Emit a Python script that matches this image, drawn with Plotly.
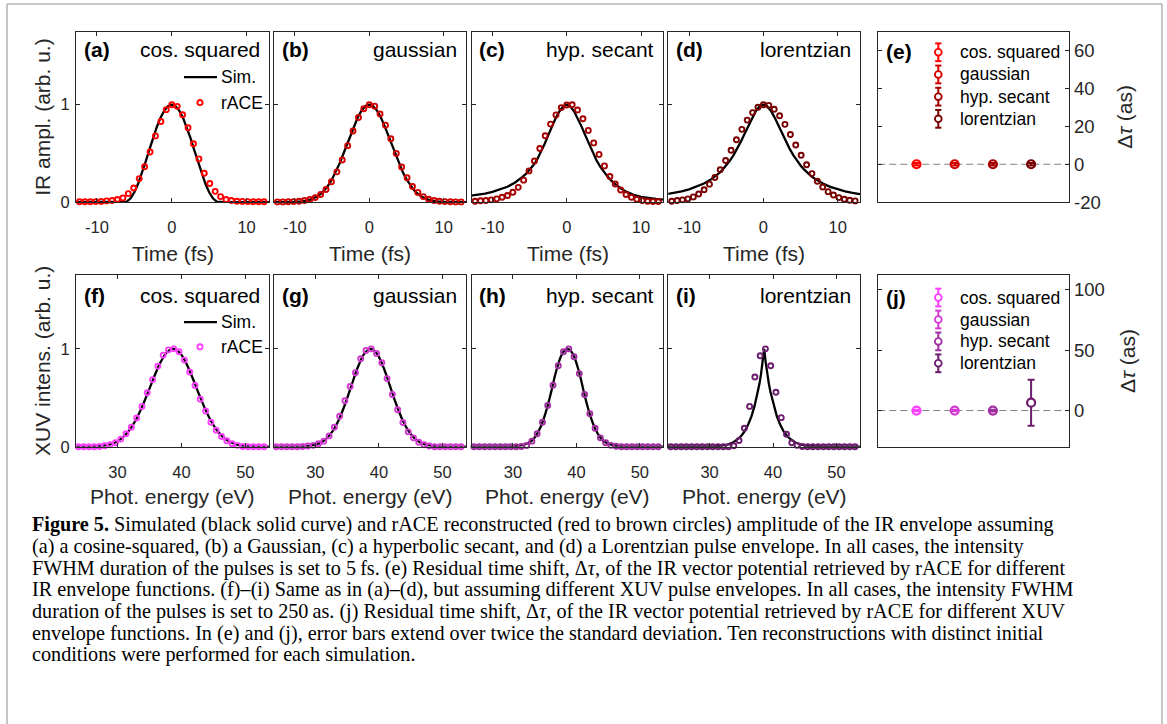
import plotly.graph_objects as go

W, H = 1167, 724

# ---------------- data ----------------
envelopes = ["cos. squared", "gaussian", "hyp. secant", "lorentzian"]
labels_ir = ["(a)", "(b)", "(c)", "(d)", "(e)"]
labels_xuv = ["(f)", "(g)", "(h)", "(i)", "(j)"]

ir_colors = ["#FF0000", "#D20000", "#A50000", "#780000"]
xuv_colors = ["#FF3FFF", "#D23AD2", "#A22FA2", "#6E1C6E"]

# IR: time grid of rACE points (fs)
t_race = [-12.34, -11.61, -10.89, -10.16, -9.43, -8.71, -7.98, -7.26, -6.53, -5.81,
          -5.08, -4.35, -3.63, -2.90, -2.18, -1.45, -0.73, 0.0, 0.73, 1.45, 2.18,
          2.90, 3.63, 4.35, 5.08, 5.81, 6.53, 7.26, 7.98, 8.71, 9.43, 10.16, 10.89,
          11.61, 12.34]
race_cos = [0.005, 0.005, 0.005, 0.006, 0.008, 0.013, 0.017, 0.027, 0.044, 0.088,
            0.145, 0.242, 0.364, 0.515, 0.680, 0.828, 0.949, 1.0, 0.983, 0.896, 0.764,
            0.599, 0.444, 0.296, 0.192, 0.111, 0.057, 0.027, 0.017, 0.010, 0.008,
            0.006, 0.005, 0.005, 0.005]
race_gauss = [0.003, 0.003, 0.004, 0.006, 0.010, 0.017, 0.027, 0.047, 0.078, 0.130,
              0.209, 0.311, 0.432, 0.580, 0.730, 0.868, 0.959, 1.0, 0.985, 0.905, 0.790,
              0.650, 0.500, 0.360, 0.250, 0.160, 0.100, 0.057, 0.030, 0.017, 0.010,
              0.006, 0.004, 0.003, 0.003]
race_sech = [0.010, 0.014, 0.017, 0.024, 0.034, 0.051, 0.068, 0.101, 0.152, 0.226,
             0.321, 0.422, 0.551, 0.682, 0.801, 0.895, 0.970, 0.997, 1.0, 0.946, 0.855,
             0.736, 0.608, 0.490, 0.372, 0.264, 0.186, 0.125, 0.078, 0.051, 0.030,
             0.017, 0.010, 0.007, 0.007]
race_lor = [0.010, 0.017, 0.024, 0.034, 0.054, 0.084, 0.128, 0.185, 0.253, 0.333,
            0.428, 0.532, 0.640, 0.747, 0.842, 0.919, 0.973, 1.0, 0.993, 0.953, 0.886,
            0.798, 0.694, 0.586, 0.481, 0.384, 0.293, 0.215, 0.155, 0.108, 0.074,
            0.047, 0.030, 0.020, 0.013]

# IR: simulated envelopes (fs)
t_sim = [-13, -12, -11, -10, -9, -8, -7, -6.5, -6, -5.5, -5, -4.5, -4, -3.5, -3, -2.5,
         -2, -1.5, -1, -0.5, 0, 0.5, 1, 1.5, 2, 2.5, 3, 3.5, 4, 4.5, 5, 5.5, 6, 6.5, 7,
         8, 9, 10, 11, 12, 13]
sim_cos = [0, 0, 0, 0, 0, 0, 0, 0, 0.006, 0.039, 0.102, 0.188, 0.294, 0.413, 0.537,
           0.659, 0.771, 0.867, 0.939, 0.985, 1.0, 0.985, 0.939, 0.867, 0.771, 0.659,
           0.537, 0.413, 0.294, 0.188, 0.102, 0.039, 0.006, 0, 0, 0, 0, 0, 0, 0, 0]
sim_gauss = [0.0, 0.0002, 0.0009, 0.003, 0.009, 0.024, 0.058, 0.086, 0.124, 0.173,
             0.235, 0.309, 0.395, 0.491, 0.593, 0.696, 0.793, 0.878, 0.944, 0.986, 1.0,
             0.986, 0.944, 0.878, 0.793, 0.696, 0.593, 0.491, 0.395, 0.309, 0.235,
             0.173, 0.124, 0.086, 0.058, 0.024, 0.009, 0.003, 0.0009, 0.0002, 0.0]
sim_sech = [0.065, 0.075, 0.088, 0.105, 0.128, 0.158, 0.200, 0.226, 0.256, 0.290,
            0.330, 0.378, 0.435, 0.510, 0.595, 0.685, 0.775, 0.860, 0.930, 0.980, 1.0,
            0.980, 0.930, 0.860, 0.775, 0.685, 0.595, 0.510, 0.430, 0.365, 0.310,
            0.262, 0.220, 0.185, 0.155, 0.108, 0.076, 0.055, 0.041, 0.033, 0.027]
sim_lor = [0.082, 0.095, 0.111, 0.131, 0.157, 0.191, 0.236, 0.263, 0.295, 0.333,
           0.376, 0.427, 0.485, 0.552, 0.626, 0.707, 0.790, 0.870, 0.938, 0.984, 1.0,
           0.984, 0.938, 0.870, 0.790, 0.707, 0.626, 0.552, 0.485, 0.427, 0.376,
           0.333, 0.295, 0.263, 0.236, 0.191, 0.157, 0.131, 0.111, 0.095, 0.082]

# XUV: photon-energy grid of rACE points (eV)
e_race = [23.86, 24.69, 25.52, 26.35, 27.18, 28.01, 28.84, 29.67, 30.50, 31.33,
          32.16, 32.99, 33.82, 34.65, 35.48, 36.31, 37.14, 37.97, 38.80, 39.63,
          40.46, 41.29, 42.12, 42.95, 43.78, 44.61, 45.44, 46.27, 47.10, 47.93,
          48.76, 49.59, 50.42, 51.25, 52.08, 52.91]
xrace_cos = [0, 0, 0, 0, 0.003, 0.010, 0.020, 0.041, 0.078, 0.132, 0.199, 0.294,
             0.412, 0.551, 0.686, 0.824, 0.936, 0.990, 1.0, 0.970, 0.885, 0.764,
             0.625, 0.486, 0.365, 0.250, 0.169, 0.105, 0.061, 0.030, 0.014, 0.003,
             0, 0, 0, 0]
xrace_gauss = [0, 0, 0, 0, 0, 0.003, 0.007, 0.014, 0.030, 0.057, 0.111, 0.199,
               0.311, 0.470, 0.615, 0.757, 0.899, 0.983, 1.0, 0.953, 0.858, 0.696,
               0.534, 0.378, 0.247, 0.152, 0.091, 0.047, 0.020, 0.007, 0, 0, 0, 0,
               0, 0]
xrace_sech = [0, 0, 0, 0, 0, 0, 0, 0, 0, 0.003, 0.012, 0.057, 0.132, 0.250, 0.422,
              0.628, 0.828, 0.970, 1.0, 0.919, 0.747, 0.534, 0.338, 0.189, 0.091,
              0.041, 0.014, 0.005, 0, 0, 0, 0, 0, 0, 0, 0]
xrace_lor = [0, 0, 0, 0, 0, 0, 0, 0, 0, 0, 0, 0, 0.010, 0.064, 0.189, 0.412, 0.713,
             0.929, 1.0, 0.828, 0.557, 0.297, 0.128, 0.041, 0.014, 0.003, 0, 0, 0,
             0, 0, 0, 0, 0, 0, 0]

# XUV: simulated spectra (eV)
e_sim_fg = [23.5, 24.7, 25.7, 26.7, 27.7, 28.7, 29.7, 30.7, 31.7, 32.7, 33.7, 34.7,
            35.7, 36.7, 37.7, 38.7, 39.7, 40.7, 41.7, 42.7, 43.7, 44.7, 45.7, 46.7,
            47.7, 48.7, 49.7, 50.7, 51.7, 52.7, 53.7]
xsim_cos = [0, 0.001, 0.002, 0.004, 0.010, 0.022, 0.046, 0.088, 0.155, 0.255, 0.387,
            0.544, 0.710, 0.859, 0.963, 1.0, 0.963, 0.859, 0.710, 0.544, 0.387, 0.255,
            0.155, 0.088, 0.046, 0.022, 0.010, 0.004, 0.002, 0.001, 0]
xsim_gauss = [0, 0, 0, 0.001, 0.002, 0.006, 0.016, 0.037, 0.080, 0.157, 0.276, 0.439,
              0.629, 0.814, 0.950, 1.0, 0.950, 0.814, 0.629, 0.439, 0.276, 0.157,
              0.080, 0.037, 0.016, 0.006, 0.002, 0.001, 0, 0, 0]
e_sim_h = [23.5, 25.6, 27.6, 28.6, 29.6, 30.6, 31.6, 32.6, 33.1, 33.6, 34.1, 34.6,
           35.1, 35.6, 36.1, 36.6, 37.1, 37.6, 38.1, 38.6, 39.1, 39.6, 40.1, 40.6,
           41.1, 41.6, 42.1, 42.6, 43.1, 43.6, 44.1, 44.6, 45.6, 46.6, 47.6, 48.6,
           50.6, 53.7]
xsim_sech = [0, 0, 0, 0, 0.002, 0.007, 0.018, 0.045, 0.07, 0.11, 0.165, 0.24, 0.335,
             0.45, 0.58, 0.72, 0.835, 0.93, 0.98, 1.0, 0.98, 0.93, 0.835, 0.72, 0.58,
             0.45, 0.335, 0.24, 0.165, 0.11, 0.07, 0.045, 0.018, 0.007, 0.002, 0, 0, 0]
e_sim_i = [23.5, 28.6, 29.6, 30.6, 31.6, 32.6, 33.6, 34.6, 35.1, 35.6, 36.1, 36.6,
           37.1, 37.6, 37.85, 38.1, 38.35, 38.6, 38.85, 39.1, 39.35, 39.6, 40.1, 40.6,
           41.1, 41.6, 42.1, 42.6, 43.6, 44.6, 45.6, 46.6, 47.6, 48.6, 53.7]
xsim_lor = [0, 0, 0.001, 0.003, 0.008, 0.018, 0.04, 0.085, 0.12, 0.165, 0.23, 0.31,
            0.42, 0.56, 0.64, 0.74, 0.86, 1.0, 0.86, 0.74, 0.64, 0.56, 0.42, 0.31,
            0.23, 0.165, 0.12, 0.085, 0.04, 0.018, 0.008, 0.003, 0.001, 0, 0]

# residual time shifts (as) and error bars (2 sigma)
env_pos = [1, 2, 3, 4]
dtau_ir = [0.0, 0.0, 0.0, 0.0]
dtau_ir_err = [0.6, 0.6, 0.6, 0.6]
dtau_xuv = [0.0, 0.0, 0.0, 6.5]
dtau_xuv_err = [0.6, 0.6, 0.7, 19.0]

ir_race = [race_cos, race_gauss, race_sech, race_lor]
ir_sim = [sim_cos, sim_gauss, sim_sech, sim_lor]
xuv_race = [xrace_cos, xrace_gauss, xrace_sech, xrace_lor]
xuv_sim_x = [e_sim_fg, e_sim_fg, e_sim_h, e_sim_i]
xuv_sim = [xsim_cos, xsim_gauss, xsim_sech, xsim_lor]

# ---------------- layout geometry (px) ----------------
cols = [(76, 269), (274, 466), (471.7, 663.3), (668.3, 860), (878.3, 1069.3)]
rows = [(32, 205), (279.3, 453)]
AX = "#262626"
FONT = "Liberation Sans, Arial, sans-serif"


def px(x):
    return x / W


def py(y):
    return 1 - y / H


fig = go.Figure()
layout = dict(width=W, height=H, margin=dict(l=0, r=0, t=0, b=0),
              paper_bgcolor="white", plot_bgcolor="white", showlegend=False,
              font=dict(family=FONT, color=AX))

shapes = []
annotations = []

for r in range(2):
    for c in range(5):
        n = r * 5 + c + 1
        xl, xr = cols[c]
        yt, yb = rows[r]
        xa = dict(domain=[px(xl), px(xr)], anchor=f"y{n}", showline=True, mirror=True,
                  linecolor=AX, linewidth=1, showgrid=False, zeroline=False,
                  tickfont=dict(size=16.5, color=AX, family=FONT))
        ya = dict(domain=[py(yb), py(yt)], anchor=f"x{n}", showline=True, mirror=True,
                  linecolor=AX, linewidth=1, showgrid=False, zeroline=False,
                  tickfont=dict(size=16.5, color=AX, family=FONT))
        if c < 4:
            xa.update(ticks="inside", ticklen=4, tickcolor=AX, mirror="ticks",
                      ticklabelstandoff=10)
            ya.update(ticks="inside", ticklen=4, tickcolor=AX, mirror="ticks",
                      range=[0, 1.75], tickvals=[0, 1], ticktext=["0", "1"],
                      showticklabels=(c == 0), ticklabelstandoff=2)
            if r == 0:
                xa.update(range=[-12.8, 13], tickvals=[-10, 0, 10],
                          ticktext=["-10", "0", "10"])
            else:
                xa.update(range=[23.5, 53.7], tickvals=[30, 40, 50],
                          ticktext=["30", "40", "50"])
        else:
            xa.update(range=[0, 5], ticks="", showticklabels=False)
            if r == 0:
                ya.update(range=[-20, 70], tickvals=[-20, 0, 20, 40, 60],
                          ticktext=["-20", "0", "20", "40", "60"])
            else:
                ya.update(range=[-30, 112], tickvals=[0, 50, 100],
                          ticktext=["0", "50", "100"])
            ya.update(side="right", ticks="inside", ticklen=4, tickcolor=AX,
                      mirror="ticks", tickfont=dict(size=18.5, color=AX, family=FONT))
        layout[f"xaxis{n}"] = xa
        layout[f"yaxis{n}"] = ya

# ---------------- traces ----------------
for j in range(4):
    n = j + 1
    fig.add_trace(go.Scatter(x=t_sim, y=ir_sim[j], mode="lines",
                             line=dict(color="black", width=2.3),
                             xaxis=f"x{n}", yaxis=f"y{n}"))
    fig.add_trace(go.Scatter(x=t_race, y=ir_race[j], mode="markers", cliponaxis=False,
                             marker=dict(symbol="circle-open", size=5,
                                         color=ir_colors[j], line=dict(width=1.9)),
                             xaxis=f"x{n}", yaxis=f"y{n}"))
    n = j + 6
    shape_kind = "linear" if j == 3 else "spline"
    fig.add_trace(go.Scatter(x=xuv_sim_x[j], y=xuv_sim[j], mode="lines",
                             line=dict(color="black", width=2.3, shape=shape_kind),
                             xaxis=f"x{n}", yaxis=f"y{n}"))
    fig.add_trace(go.Scatter(x=e_race, y=xuv_race[j], mode="markers", cliponaxis=False,
                             marker=dict(symbol="circle-open", size=5,
                                         color=xuv_colors[j], line=dict(width=1.9)),
                             xaxis=f"x{n}", yaxis=f"y{n}"))

# residual shift panels
for n, vals, errs, colors in [(5, dtau_ir, dtau_ir_err, ir_colors),
                              (10, dtau_xuv, dtau_xuv_err, xuv_colors)]:
    shapes.append(dict(type="line", xref=f"x{n} domain", yref=f"y{n}", x0=0, x1=1,
                       y0=0, y1=0, line=dict(color="#808080", width=1, dash="7px,4px"),
                       layer="below"))
    for k in range(4):
        big = errs[k] > 5
        fig.add_trace(go.Scatter(
            x=[env_pos[k]], y=[vals[k]], mode="markers", cliponaxis=False,
            error_y=dict(type="data", array=[errs[k]], color=colors[k], thickness=2,
                         width=3.5),
            marker=dict(symbol="circle" if big else "circle-open", size=8,
                        color="white" if big else colors[k],
                        line=dict(width=2.2, color=colors[k])),
            xaxis=f"x{n}", yaxis=f"y{n}"))

# ---------------- annotations ----------------
def ann(text, x, y, size, xanchor="center", yanchor="middle", angle=0, color="black",
        family=FONT):
    annotations.append(dict(text=text, x=px(x), y=py(y), xref="paper", yref="paper",
                            showarrow=False, xanchor=xanchor, yanchor=yanchor,
                            textangle=angle, font=dict(size=size, color=color,
                                                       family=family)))


for r, labs, ylab_y in [(0, labels_ir, 50.5), (1, labels_xuv, 300)]:
    for c in range(5):
        xl, xr = cols[c]
        ann(f"<b>{labs[c]}</b>", xl + 5.5, ylab_y + (1.5 if c == 4 else 0), 21,
            xanchor="left")
        if c < 4:
            ann(envelopes[c], xr - 7, ylab_y, 21, xanchor="right")
            ann("Time (fs)" if r == 0 else "Phot. energy (eV)", (xl + xr) / 2,
                257.5 if r == 0 else 503, 21, color=AX)

ann("IR ampl. (arb. u.)", 43, 118.5, 21, angle=-90, color=AX)
ann("XUV intens. (arb. u.)", 43, 366, 21, angle=-90, color=AX)
ann("Δ<i>τ</i> (as)", 1125, 118.5, 21, angle=-90, color=AX)
ann("Δ<i>τ</i> (as)", 1128, 366, 21, angle=-90, color=AX)

# in-panel legends for (a) and (f)
for yl, ym, col in [(78.3, 104, ir_colors[0]), (326.7, 351.7, xuv_colors[0])]:
    shapes.append(dict(type="line", xref="paper", yref="paper", x0=px(184), x1=px(217),
                       y0=py(yl), y1=py(yl), line=dict(color="black", width=2.3)))
    shapes.append(dict(type="circle", xref="paper", yref="paper", x0=px(197.4),
                       x1=px(202.6), y0=py(ym + 2.6), y1=py(ym - 2.6),
                       line=dict(color=col, width=1.9)))
    ann("Sim.", 219, yl, 17.5, xanchor="left")
    ann("rACE", 219, ym, 17.5, xanchor="left")

# legends for (e) and (j)
for ys, colors in [([53, 75.5, 98, 120.5], ir_colors),
                   ([301.7, 324, 346.2, 368.4], xuv_colors)]:
    for k in range(4):
        y = ys[k]
        c = colors[k]
        shapes.append(dict(type="line", xref="paper", yref="paper", x0=px(938.3),
                           x1=px(938.3), y0=py(y - 9), y1=py(y + 9),
                           line=dict(color=c, width=2)))
        for yy in (y - 9, y + 9):
            shapes.append(dict(type="line", xref="paper", yref="paper", x0=px(935.2),
                               x1=px(941.4), y0=py(yy), y1=py(yy),
                               line=dict(color=c, width=2)))
        shapes.append(dict(type="circle", xref="paper", yref="paper", x0=px(934.9),
                           x1=px(941.7), y0=py(y + 3.4), y1=py(y - 3.4),
                           fillcolor="white", line=dict(color=c, width=1.8)))
        ann(envelopes[k], 958.3, y, 17.5, xanchor="left")

# page frame
FR = "#b3b3b3"
shapes += [
    dict(type="line", xref="paper", yref="paper", x0=px(7), x1=px(1162), y0=py(4),
         y1=py(4), line=dict(color=FR, width=1.5)),
    dict(type="line", xref="paper", yref="paper", x0=px(7), x1=px(7), y0=py(4),
         y1=py(740), line=dict(color=FR, width=1.5)),
    dict(type="line", xref="paper", yref="paper", x0=px(1162), x1=px(1162), y0=py(4),
         y1=py(740), line=dict(color=FR, width=1.5)),
]

# caption
caption = [
    "<b>Figure 5.</b> Simulated (black solid curve) and rACE reconstructed (red to brown circles) amplitude of the IR envelope assuming",
    "(a) a cosine-squared, (b) a Gaussian, (c) a hyperbolic secant, and (d) a Lorentzian pulse envelope. In all cases, the intensity",
    "FWHM duration of the pulses is set to 5\u2009fs. (e) Residual time shift, Δ<i>τ</i>, of the IR vector potential retrieved by rACE for different",
    "IR envelope functions. (f)–(i) Same as in (a)–(d), but assuming different XUV pulse envelopes. In all cases, the intensity FWHM",
    "duration of the pulses is set to 250\u2009as. (j) Residual time shift, Δ<i>τ</i>, of the IR vector potential retrieved by rACE for different XUV",
    "envelope functions. In (e) and (j), error bars extend over twice the standard deviation. Ten reconstructions with distinct initial",
    "conditions were performed for each simulation.",
]
cap_y = [532, 554, 576, 598, 620, 642, 664]
for line, yy in zip(caption, cap_y):
    ann(line, 30, yy, 20.2, xanchor="left", family="Liberation Serif, Times New Roman, serif")

layout["shapes"] = shapes
layout["annotations"] = annotations
fig.update_layout(**layout)
fig.write_html("out.html")
